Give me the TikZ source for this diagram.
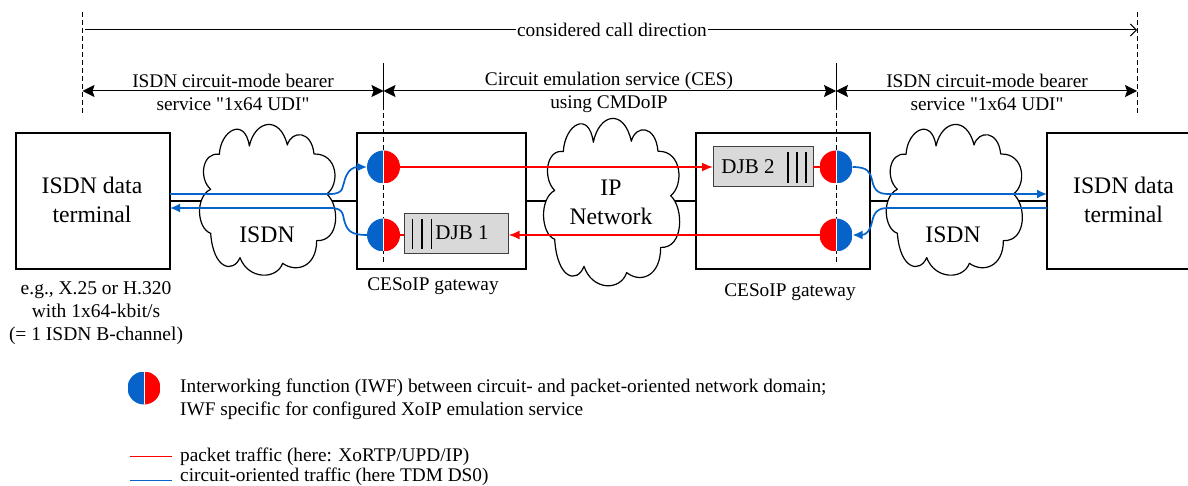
\documentclass[tikz,border=0pt]{standalone}
\usepackage{fontspec}
\setmainfont{Liberation Serif}[Ligatures=TeXOff]
\usetikzlibrary{arrows.meta}
\definecolor{iwfblue}{HTML}{0563C9}
\definecolor{iwfred}{HTML}{FF0000}
\definecolor{djbgray}{HTML}{D9D9D9}
\newcommand{\cloudshape}{(62,208) .. controls (25,175) and (37,95) .. (88,103)
 .. controls (92,30) and (165,-10) .. (178,78)
 .. controls (195,0) and (270,-15) .. (292,75)
 .. controls (305,30) and (365,30) .. (372,102)
 .. controls (445,100) and (450,195) .. (410,222)
 .. controls (450,255) and (450,365) .. (380,362)
 .. controls (380,440) and (320,460) .. (278,430)
 .. controls (260,480) and (175,480) .. (150,413)
 .. controls (130,460) and (70,450) .. (62,340)
 .. controls (20,325) and (15,230) .. (62,208) -- cycle}
\tikzset{
 boxnode/.style={draw=black,line width=1.4pt,fill=white,rectangle,inner sep=0pt,outer sep=0pt},
 djb/.style={draw=black!75,line width=1pt,fill=djbgray,rectangle,inner sep=0pt,outer sep=0pt,minimum height=40pt},
 cloudline/.style={draw=black,line width=1.2pt,fill=white,line join=round},
 txt/.style={inner sep=0pt,font=\fontsize{19.3}{23}\selectfont},
 big/.style={inner sep=0pt,font=\fontsize{23.7}{29}\selectfont,align=center},
 link/.style={draw=black,line width=1.3pt},
 guide/.style={draw=black,line width=0.9pt,dash pattern=on 5pt off 3pt},
 span/.style={draw=black,line width=1pt,{Stealth[length=12pt,width=12pt,inset=2pt]}-{Stealth[length=12pt,width=12pt,inset=2pt]}},
 bluearrow/.style={draw=iwfblue,line width=1.7pt,-{Latex[length=10pt,width=9pt]}},
 redarrow/.style={draw=iwfred,line width=1.7pt,-{Latex[length=11pt,width=9pt]}},
 redline/.style={draw=iwfred,line width=1.7pt},
 bars/.style={draw=black,line width=1.2pt},
 iwf/.style={circle,inner sep=0pt,outer sep=0pt,minimum size=33pt},
 iwfbr/.style={iwf,path picture={
   \fill[iwfblue] (path picture bounding box.south west) rectangle (path picture bounding box.north);
   \fill[iwfred] (path picture bounding box.south east) rectangle (path picture bounding box.north);
   \draw[white,line width=1pt] (path picture bounding box.south) -- (path picture bounding box.north);}},
 iwfrb/.style={iwf,path picture={
   \fill[iwfred] (path picture bounding box.south west) rectangle (path picture bounding box.north);
   \fill[iwfblue] (path picture bounding box.south east) rectangle (path picture bounding box.north);
   \draw[white,line width=1pt] (path picture bounding box.south) -- (path picture bounding box.north);}},
}
\begin{document}
\begin{tikzpicture}[x=1pt,y=-1pt]
\useasboundingbox (0,0) rectangle (1188,486);
% guides
\coordinate (gA0) at (82.5,12); \coordinate (gA1) at (82.5,114);
\coordinate (gB0) at (383.5,63); \coordinate (gB1) at (383.5,262);
\coordinate (gC0) at (836,63); \coordinate (gC1) at (836,262);
\coordinate (gD0) at (1137,12); \coordinate (gD1) at (1137,114);
\coordinate (dirS) at (85,30); \coordinate (dirE) at (1137,30);
\coordinate (sA) at (82.5,91); \coordinate (sB) at (383.5,91); \coordinate (sC) at (836,91); \coordinate (sD) at (1137,91);
\draw[guide] (gA0) -- (gA1);
\draw[guide] (gD0) -- (gD1);
% boxes
\node[boxnode,minimum width=154pt,minimum height=136pt] (t1) at (93,201) {};
\node[boxnode,minimum width=169pt,minimum height=136pt] (g1) at (441.5,201) {};
\node[boxnode,minimum width=174pt,minimum height=136pt] (g2) at (783,201) {};
\node[boxnode,minimum width=144pt,minimum height=136pt] (t2) at (1119,201) {};
% links
\draw[link] (t1.east) -- (g1.west);
\draw[link] (g1.east) -- (g2.west);
\draw[link] (g2.east) -- (t2.west);
% dashed verticals
\draw[draw=black,line width=0.9pt] (gB0) -- (383.5,105);
\draw[guide] (383.5,105) -- (gB1);
\draw[draw=black,line width=0.9pt] (gC0) -- (836,105);
\draw[guide] (836,105) -- (gC1);
% clouds
\begin{scope}[shift={(190,120)},x=0.3333pt,y=-0.3333pt]
 \draw[cloudline] \cloudshape;
\end{scope}
\begin{scope}[shift={(534,113.5)},x=0.3333pt,y=-0.37pt]
 \draw[cloudline] \cloudshape;
\end{scope}
\begin{scope}[shift={(876.7,120)},x=0.3333pt,y=-0.3333pt]
 \draw[cloudline] \cloudshape;
\end{scope}
% DJBs
\node[djb,minimum width=104.5pt] (d1) at (456.3,234) {};
\node[djb,minimum width=100pt] (d2) at (763,167) {};
\draw[bars] (412.5,219) -- (412.5,249) (422,219) -- (422,249) (431.5,219) -- (431.5,249);
\draw[bars] (788,152) -- (788,183) (797,152) -- (797,183) (806,152) -- (806,183);
% IWFs
\node[iwfbr] (i1) at (383.5,167) {};
\node[iwfbr] (i2) at (383.5,235) {};
\node[iwfrb] (i3) at (836,167) {};
\node[iwfrb] (i4) at (836,235) {};
% traffic
\draw[redarrow] (i1.east) -- (d2.west);
\draw[redline] (d2.east) -- (i3.west);
\draw[redarrow] (i4.west) -- (d1.east |- i4.west);
\draw[redline] (i2.east) -- (d1.west |- i2.east);
\coordinate (t1a) at (t1.east |- 0,194);
\coordinate (t1b) at (t1.east |- 0,208);
\coordinate (t2a) at (t2.west |- 0,194);
\coordinate (t2b) at (t2.west |- 0,208);
\draw[bluearrow] (t1a) -- (330,194) .. controls (345,194) and (342,186) .. (345,179) .. controls (348,170) and (353,167) .. (i1.west);
\draw[bluearrow] (i2.west) .. controls (353,235) and (348,232) .. (345,223) .. controls (342,215) and (345,208) .. (330,208) -- (t1b);
\draw[bluearrow] (i3.east) .. controls (868,167) and (870,172) .. (872,180) .. controls (874,190) and (878,194) .. (888,194) -- (t2a);
\draw[bluearrow] (t2b) -- (888,208) .. controls (878,208) and (874,212) .. (872,222) .. controls (870,231) and (866,235) .. (i4.east);
% spans
\draw[draw=black,line width=1pt,-{Straight Barb[length=6pt,width=12pt]}] (dirS) -- (dirE);
\draw[span] (sA) -- (sB);
\draw[span] (sB) -- (sC);
\draw[span] (sC) -- (sD);
\node[txt,fill=white,inner xsep=1pt,inner ysep=0pt] (ldir) at (612,30) {considered call direction};
\node[txt] (l1a) at (233,81) {ISDN circuit-mode bearer};
\node[txt] (l1b) at (233,104) {service "1x64 UDI"};
\node[txt] (l2a) at (609,81) {Circuit emulation service (CES)};
\node[txt] (l2b) at (609,104) {using CMDoIP};
\node[txt] (l3a) at (987,81) {ISDN circuit-mode bearer};
\node[txt] (l3b) at (987,104) {service "1x64 UDI"};
% labels
\node[big] (lt1) at (92,199.5) {ISDN data\\terminal};
\node[big] (lt2) at (1123.5,199.5) {ISDN data\\terminal};
\node[big] (lc1) at (267,235) {ISDN};
\node[big] (lc3) at (953,235) {ISDN};
\node[big] (lc2) at (611,202) {IP\\Network};
\node[big,font=\fontsize{21}{25}\selectfont] (ld1) at (462,233) {DJB 1};
\node[big,font=\fontsize{21}{25}\selectfont] (ld2) at (748,167) {DJB 2};
\node[txt] (lg1) at (433,286) {CESoIP gateway};
\node[txt] (lg2) at (790,292) {CESoIP gateway};
\node[txt,font=\fontsize{19.5}{23}\selectfont,align=center] (le) at (96,313) {e.g., X.25 or H.320\\with 1x64-kbit/s\\(= 1 ISDN B-channel)};
% legend
\node[iwfbr] (li) at (144,388) {};
\node[txt,anchor=west,align=left] (lt) at (180,399) {Interworking function (IWF) between circuit- and packet-oriented network domain;\\IWF specific for configured XoIP emulation service};
\coordinate (lr0) at (129.5,456.5); \coordinate (lr1) at (172,456.5);
\coordinate (lb0) at (129.5,480.5); \coordinate (lb1) at (172,480.5);
\draw[redline] (lr0) -- (lr1);
\draw[draw=iwfblue,line width=1.7pt] (lb0) -- (lb1);
\node[txt,anchor=west] (lp) at (180,456.5) {packet traffic (here: XoRTP/UPD/IP)};
\node[txt,anchor=west] (lq) at (180,477) {circuit-oriented traffic (here TDM DS0)};
\end{tikzpicture}
\end{document}
